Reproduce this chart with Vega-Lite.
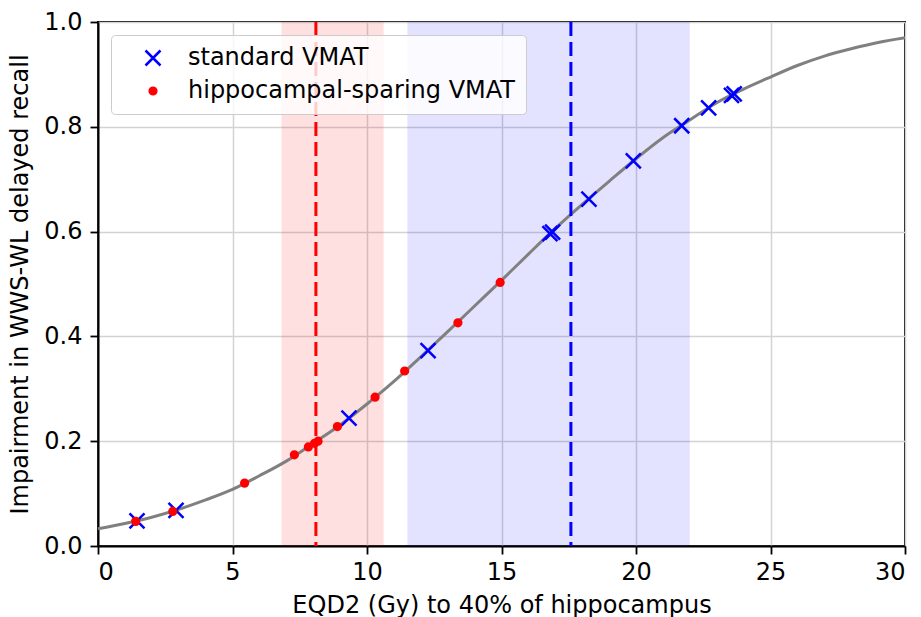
{
  "$schema": "https://vega.github.io/schema/vega-lite/v6.json",
  "width": 807,
  "height": 524,
  "autosize": {"type": "none"},
  "padding": {"left": 98, "top": 22, "right": 16, "bottom": 71},
  "background": "white",
  "config": {
    "font": "DejaVu Sans",
    "view": {"stroke": "black", "strokeWidth": 2},
    "axis": {
      "labelFont": "DejaVu Sans",
      "titleFont": "DejaVu Sans",
      "labelFontSize": 24,
      "titleFontSize": 24,
      "titleFontWeight": "normal",
      "labelColor": "black",
      "titleColor": "black",
      "tickColor": "black",
      "domainColor": "black",
      "domainWidth": 2,
      "tickWidth": 1.8,
      "tickSize": 8,
      "gridColor": "#d3d3d3",
      "gridWidth": 1.5
    },
    "legend": {
      "labelFont": "DejaVu Sans",
      "labelFontSize": 24,
      "labelColor": "black",
      "labelLimit": 500,
      "symbolOffset": 19,
      "labelOffset": 23
    }
  },
  "datasets": {
    "curve": [
      {"dose": 0, "impairment": 0.033},
      {"dose": 1, "impairment": 0.043},
      {"dose": 2, "impairment": 0.055},
      {"dose": 3, "impairment": 0.070},
      {"dose": 4, "impairment": 0.088},
      {"dose": 5, "impairment": 0.108},
      {"dose": 6, "impairment": 0.134},
      {"dose": 7, "impairment": 0.162},
      {"dose": 8, "impairment": 0.196},
      {"dose": 9, "impairment": 0.231},
      {"dose": 10, "impairment": 0.271},
      {"dose": 11, "impairment": 0.314},
      {"dose": 12, "impairment": 0.361},
      {"dose": 13, "impairment": 0.409},
      {"dose": 14, "impairment": 0.458},
      {"dose": 15, "impairment": 0.507},
      {"dose": 16, "impairment": 0.557},
      {"dose": 17, "impairment": 0.606},
      {"dose": 18, "impairment": 0.652},
      {"dose": 19, "impairment": 0.696},
      {"dose": 20, "impairment": 0.739},
      {"dose": 21, "impairment": 0.779},
      {"dose": 22, "impairment": 0.813},
      {"dose": 23, "impairment": 0.846},
      {"dose": 24, "impairment": 0.872},
      {"dose": 25, "impairment": 0.895},
      {"dose": 26, "impairment": 0.917},
      {"dose": 27, "impairment": 0.935},
      {"dose": 28, "impairment": 0.949},
      {"dose": 29, "impairment": 0.961},
      {"dose": 30, "impairment": 0.970}
    ],
    "points": [
      {"plan": "standard VMAT", "dose": 1.45, "impairment": 0.048},
      {"plan": "standard VMAT", "dose": 2.9, "impairment": 0.068},
      {"plan": "standard VMAT", "dose": 9.33, "impairment": 0.244},
      {"plan": "standard VMAT", "dose": 12.27, "impairment": 0.373},
      {"plan": "standard VMAT", "dose": 16.8, "impairment": 0.596},
      {"plan": "standard VMAT", "dose": 16.9, "impairment": 0.599},
      {"plan": "standard VMAT", "dose": 18.25, "impairment": 0.662},
      {"plan": "standard VMAT", "dose": 19.9, "impairment": 0.735},
      {"plan": "standard VMAT", "dose": 21.7, "impairment": 0.802},
      {"plan": "standard VMAT", "dose": 22.7, "impairment": 0.836},
      {"plan": "standard VMAT", "dose": 23.55, "impairment": 0.860},
      {"plan": "standard VMAT", "dose": 23.65, "impairment": 0.863},
      {"plan": "hippocampal-sparing VMAT", "dose": 1.4, "impairment": 0.047},
      {"plan": "hippocampal-sparing VMAT", "dose": 2.78, "impairment": 0.066},
      {"plan": "hippocampal-sparing VMAT", "dose": 5.45, "impairment": 0.12},
      {"plan": "hippocampal-sparing VMAT", "dose": 7.3, "impairment": 0.174},
      {"plan": "hippocampal-sparing VMAT", "dose": 7.82, "impairment": 0.189},
      {"plan": "hippocampal-sparing VMAT", "dose": 8.05, "impairment": 0.196},
      {"plan": "hippocampal-sparing VMAT", "dose": 8.18, "impairment": 0.2},
      {"plan": "hippocampal-sparing VMAT", "dose": 8.9, "impairment": 0.228},
      {"plan": "hippocampal-sparing VMAT", "dose": 10.3, "impairment": 0.284},
      {"plan": "hippocampal-sparing VMAT", "dose": 11.4, "impairment": 0.334},
      {"plan": "hippocampal-sparing VMAT", "dose": 13.38, "impairment": 0.426},
      {"plan": "hippocampal-sparing VMAT", "dose": 14.95, "impairment": 0.503}
    ],
    "bands": [
      {"plan": "hippocampal-sparing VMAT", "lo": 6.82, "hi": 10.62, "median": 8.1},
      {"plan": "standard VMAT", "lo": 11.5, "hi": 22.0, "median": 17.58}
    ]
  },
  "layer": [
    {
      "data": {"name": "bands"},
      "transform": [{"filter": "datum.plan === 'hippocampal-sparing VMAT'"}],
      "mark": {"type": "rect", "color": "red", "opacity": 0.12},
      "encoding": {
        "x": {"field": "lo", "type": "quantitative", "scale": {"domain": [0, 30], "nice": false, "zero": false},
          "axis": {"title": "EQD2 (Gy) to 40% of hippocampus", "values": [0, 5, 10, 15, 20, 25, 30], "labelPadding": 6, "titlePadding": 9, "grid": true}},
        "x2": {"field": "hi"}
      }
    },
    {
      "data": {"name": "bands"},
      "transform": [{"filter": "datum.plan === 'standard VMAT'"}],
      "mark": {"type": "rect", "color": "blue", "opacity": 0.11},
      "encoding": {
        "x": {"field": "lo", "type": "quantitative"},
        "x2": {"field": "hi"}
      }
    },
    {
      "data": {"name": "curve"},
      "mark": {"type": "line", "color": "#808080", "strokeWidth": 3, "interpolate": "monotone"},
      "encoding": {
        "x": {"field": "dose", "type": "quantitative"},
        "y": {"field": "impairment", "type": "quantitative", "scale": {"domain": [0, 1], "nice": false},
          "axis": {"title": "Impairment in WWS-WL delayed recall", "values": [0, 0.2, 0.4, 0.6, 0.8, 1.0], "format": ".1f", "labelPadding": 8, "titlePadding": 11, "grid": true}}
      }
    },
    {
      "data": {"name": "bands"},
      "transform": [{"filter": "datum.plan === 'hippocampal-sparing VMAT'"}],
      "mark": {"type": "rule", "color": "red", "strokeWidth": 3, "strokeDash": [14, 6]},
      "encoding": {
        "x": {"field": "median", "type": "quantitative"}
      }
    },
    {
      "data": {"name": "bands"},
      "transform": [{"filter": "datum.plan === 'standard VMAT'"}],
      "mark": {"type": "rule", "color": "blue", "strokeWidth": 3, "strokeDash": [14, 6]},
      "encoding": {
        "x": {"field": "median", "type": "quantitative"}
      }
    },
    {
      "data": {"name": "points"},
      "mark": {"type": "point", "strokeWidth": 2.5, "opacity": 1},
      "encoding": {
        "x": {"field": "dose", "type": "quantitative"},
        "y": {"field": "impairment", "type": "quantitative"},
        "shape": {"field": "plan", "type": "nominal", "scale": {"domain": ["standard VMAT", "hippocampal-sparing VMAT"], "range": ["M-1,-1L1,1M-1,1L1,-1", "circle"]},
          "legend": {"title": null, "orient": "none", "legendX": 13, "legendY": 13, "padding": 11, "symbolOffset": 19, "labelOffset": 23, "rowPadding": 8, "fillColor": "rgba(255,255,255,0.8)", "strokeColor": "#cccccc", "cornerRadius": 4, "symbolStrokeWidth": 2.5}},
        "fill": {"field": "plan", "type": "nominal", "scale": {"domain": ["standard VMAT", "hippocampal-sparing VMAT"], "range": ["blue", "red"]},
          "legend": {"title": null, "orient": "none", "legendX": 13, "legendY": 13, "padding": 11, "symbolOffset": 19, "labelOffset": 23, "rowPadding": 8, "fillColor": "rgba(255,255,255,0.8)", "strokeColor": "#cccccc", "cornerRadius": 4, "symbolStrokeWidth": 2.5}},
        "stroke": {"field": "plan", "type": "nominal", "scale": {"domain": ["standard VMAT", "hippocampal-sparing VMAT"], "range": ["blue", "red"]},
          "legend": {"title": null, "orient": "none", "legendX": 13, "legendY": 13, "padding": 11, "symbolOffset": 19, "labelOffset": 23, "rowPadding": 8, "fillColor": "rgba(255,255,255,0.8)", "strokeColor": "#cccccc", "cornerRadius": 4, "symbolStrokeWidth": 2.5}},
        "size": {"field": "plan", "type": "nominal", "scale": {"domain": ["standard VMAT", "hippocampal-sparing VMAT"], "range": [225, 45]},
          "legend": {"title": null, "orient": "none", "legendX": 13, "legendY": 13, "padding": 11, "symbolOffset": 19, "labelOffset": 23, "rowPadding": 8, "fillColor": "rgba(255,255,255,0.8)", "strokeColor": "#cccccc", "cornerRadius": 4, "symbolStrokeWidth": 2.5}}
      }
    }
  ]
}
